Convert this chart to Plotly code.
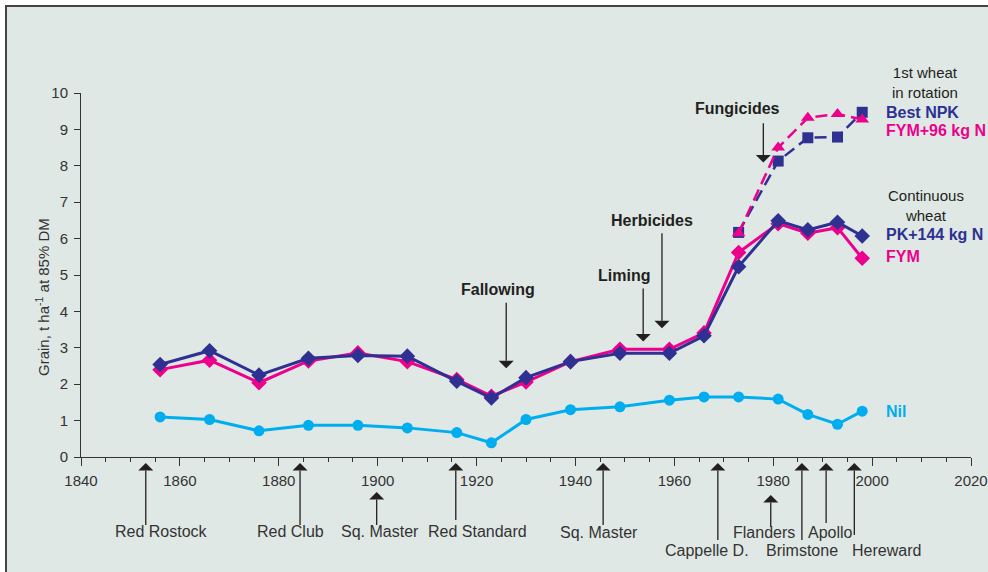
import plotly.graph_objects as go

# ---------------- data ----------------
years_cont = [1856, 1866, 1876, 1886, 1896, 1906, 1916, 1923, 1930, 1939,
              1949, 1959, 1966, 1973, 1981, 1987, 1993, 1998]
nil = [1.10, 1.03, 0.72, 0.87, 0.87, 0.80, 0.67, 0.39, 1.03, 1.30,
       1.38, 1.56, 1.65, 1.65, 1.59, 1.17, 0.90, 1.26]
fym = [2.40, 2.66, 2.04, 2.64, 2.86, 2.62, 2.13, 1.67, 2.06, 2.62,
       2.96, 2.96, 3.41, 5.62, 6.41, 6.15, 6.30, 5.46]
pk144 = [2.54, 2.92, 2.25, 2.71, 2.79, 2.77, 2.08, 1.62, 2.18, 2.62,
         2.85, 2.85, 3.33, 5.23, 6.49, 6.24, 6.45, 6.07]

years_rot = [1973, 1981, 1987, 1993, 1998]
best_npk = [6.17, 8.13, 8.77, 8.79, 9.47]
fym96 = [6.15, 8.50, 9.32, 9.42, 9.27]

# practices (arrows from above): label, year, arrow tip value, arrow tail value
practice_labels = ["Fallowing", "Liming", "Herbicides", "Fungicides"]
practice_years = [1926.0, 1953.7, 1957.5, 1978.0]
practice_tip = [2.44, 3.17, 3.54, 8.09]
practice_tail = [4.24, 4.63, 6.15, 9.17]

# varieties (arrows from below)
variety_labels = ["Red Rostock", "Red Club", "Sq. Master", "Red Standard", "Sq. Master",
                  "Cappelle D.", "Flanders", "Brimstone", "Apollo", "Hereward"]
variety_years = [1853.1, 1884.3, 1899.8, 1915.8, 1945.6, 1968.8, 1979.5, 1985.8, 1990.7, 1996.4]

X_RANGE = [1840, 2020]
Y_RANGE = [0, 10]

NAVY = "#2E3192"
PINK = "#EC008C"
CYAN = "#00AEEF"
BG = "#E0E8E5"
TXT = "#231F20"
FONT = "Liberation Sans, Arial, sans-serif"

W, H = 988, 572
L, R, T, B = 81, 971, 93, 457


def pxx(xp):
    return (xp - L) / (R - L)


def pxy(yp):
    return (B - yp) / (B - T)


def year_px(yr):
    return L + (yr - X_RANGE[0]) / (X_RANGE[1] - X_RANGE[0]) * (R - L)


def val_px(v):
    return B - (v - Y_RANGE[0]) / (Y_RANGE[1] - Y_RANGE[0]) * (B - T)


fig = go.Figure()

fig.add_trace(go.Scatter(x=years_cont, y=nil, mode="lines+markers", name="Nil",
                         line=dict(color=CYAN, width=3),
                         marker=dict(symbol="circle", size=11, color=CYAN)))
fig.add_trace(go.Scatter(x=years_rot, y=best_npk, mode="lines+markers", name="Best NPK",
                         line=dict(color=NAVY, width=2.5, dash="12px,6px"),
                         marker=dict(symbol="square", size=11, color=NAVY)))
fig.add_trace(go.Scatter(x=years_rot, y=fym96, mode="lines+markers", name="FYM+96 kg N",
                         line=dict(color=PINK, width=2.5, dash="12px,6px"),
                         marker=dict(symbol="triangle-up", size=12, color=PINK)))
fig.add_trace(go.Scatter(x=years_cont, y=fym, mode="lines+markers", name="FYM",
                         line=dict(color=PINK, width=3),
                         marker=dict(symbol="diamond", size=12, color=PINK)))
fig.add_trace(go.Scatter(x=years_cont, y=pk144, mode="lines+markers", name="PK+144 kg N",
                         line=dict(color=NAVY, width=3),
                         marker=dict(symbol="diamond", size=12, color=NAVY)))

ann = []
shapes = [
    # white strips top and left
    dict(type="rect", xref="paper", yref="paper", x0=pxx(-5), x1=pxx(W + 5), y0=pxy(5), y1=pxy(-5),
         fillcolor="white", line=dict(width=0), layer="below"),
    dict(type="rect", xref="paper", yref="paper", x0=pxx(-5), x1=pxx(5), y0=pxy(W), y1=pxy(-5),
         fillcolor="white", line=dict(width=0), layer="below"),
    # frame lines
    dict(type="line", xref="paper", yref="paper", x0=pxx(5), x1=pxx(W + 5), y0=pxy(6), y1=pxy(6),
         line=dict(color="#444444", width=2)),
    dict(type="line", xref="paper", yref="paper", x0=pxx(6), x1=pxx(6), y0=pxy(5), y1=pxy(H + 5),
         line=dict(color="#444444", width=2)),
]

HW, HL = 7.5, 7.5  # arrowhead half-width and length in px


def add_arrow(xp, tip_py, tail_py):
    down = tail_py < tip_py
    base = tip_py - HL if down else tip_py + HL
    shapes.append(dict(type="line", xref="paper", yref="paper",
                       x0=pxx(xp), x1=pxx(xp), y0=pxy(tail_py), y1=pxy(base),
                       line=dict(color=TXT, width=1.3)))
    path = "M %f,%f L %f,%f L %f,%f Z" % (pxx(xp - HW), pxy(base), pxx(xp + HW), pxy(base),
                                          pxx(xp), pxy(tip_py))
    shapes.append(dict(type="path", xref="paper", yref="paper", path=path,
                       fillcolor=TXT, line=dict(width=0)))


# y-axis title
ann.append(dict(xref="paper", yref="paper", x=pxx(42), y=pxy(297), showarrow=False,
                text="Grain, t ha<sup>-1</sup> at 85% DM", textangle=-90,
                font=dict(family=FONT, size=15, color="#333333"),
                xanchor="center", yanchor="middle"))

# practice arrows + labels
practice_text_pos = [(497.5, 289.3), (624, 275), (651.8, 220), (737.8, 109)]
for lab, yr, tip, tail, (tx, ty) in zip(practice_labels, practice_years, practice_tip,
                                        practice_tail, practice_text_pos):
    add_arrow(year_px(yr), val_px(tip), val_px(tail))
    ann.append(dict(xref="paper", yref="paper", x=pxx(tx), y=pxy(ty), text="<b>%s</b>" % lab,
                    showarrow=False, xanchor="center", yanchor="middle",
                    font=dict(family=FONT, size=16, color=TXT)))

# variety arrows + labels (pixel offsets below the axis)
variety_tip_px = [463, 463, 492, 463, 463, 463, 495, 463, 463, 463]
variety_tail_px = [525, 525, 525, 520, 525, 540, 527, 540, 523, 535]
variety_text_pos = [(161.7, 531.7), (290.7, 531.7), (379.5, 531.7), (477, 531.7),
                    (598.8, 532.3), (707.2, 550), (764.2, 532.3), (802.2, 550),
                    (830.5, 532), (886.2, 550)]
for lab, yr, tp, tl, (tx, ty) in zip(variety_labels, variety_years, variety_tip_px,
                                     variety_tail_px, variety_text_pos):
    add_arrow(year_px(yr), tp, tl)
    ann.append(dict(xref="paper", yref="paper", x=pxx(tx), y=pxy(ty), text=lab,
                    showarrow=False, xanchor="center", yanchor="middle",
                    font=dict(family=FONT, size=16, color="#333333")))

# legend-like labels on the right
right_labels = [
    ("1st wheat<br>in rotation", 924.7, 82, "center", False, TXT, 15),
    ("Best NPK", 884, 112.3, "left", True, NAVY, 16),
    ("FYM+96 kg N", 884, 130.7, "left", True, PINK, 16),
    ("Continuous<br>wheat", 926.3, 205.5, "center", False, TXT, 15),
    ("PK+144 kg N", 884, 234.3, "left", True, NAVY, 16),
    ("FYM", 884, 256.7, "left", True, PINK, 16),
    ("Nil", 884, 411, "left", True, CYAN, 16),
]
for txt, tx, ty, anc, bold, col, fs in right_labels:
    ann.append(dict(xref="paper", yref="paper", x=pxx(tx), y=pxy(ty),
                    text=("<b>%s</b>" % txt) if bold else txt, showarrow=False,
                    xanchor=anc, yanchor="middle",
                    font=dict(family=FONT, size=fs, color=col)))

fig.update_layout(
    width=W, height=H,
    margin=dict(l=L, r=W - R, t=T, b=H - B, autoexpand=False),
    paper_bgcolor=BG, plot_bgcolor=BG,
    showlegend=False,
    annotations=ann, shapes=shapes,
    font=dict(family=FONT, color="#333333"),
    xaxis=dict(range=X_RANGE, dtick=20, tick0=1840, showgrid=False, zeroline=False,
               automargin=False,
               showline=True, linecolor="#333333", linewidth=1,
               ticks="outside", ticklen=8, tickcolor="#333333", tickwidth=1,
               tickfont=dict(family=FONT, size=15, color="#333333"),
               ticklabelstandoff=2,
               minor=dict(dtick=5, tick0=1840, ticks="outside", ticklen=4,
                          tickcolor="#333333", showgrid=False)),
    yaxis=dict(range=Y_RANGE, dtick=1, showgrid=False, zeroline=False,
               automargin=False,
               showline=True, linecolor="#333333", linewidth=1,
               ticks="outside", ticklen=6, tickcolor="#333333", tickwidth=1,
               tickfont=dict(family=FONT, size=15, color="#333333"),
               ticklabelstandoff=3),
)

fig.write_html("out.html")
